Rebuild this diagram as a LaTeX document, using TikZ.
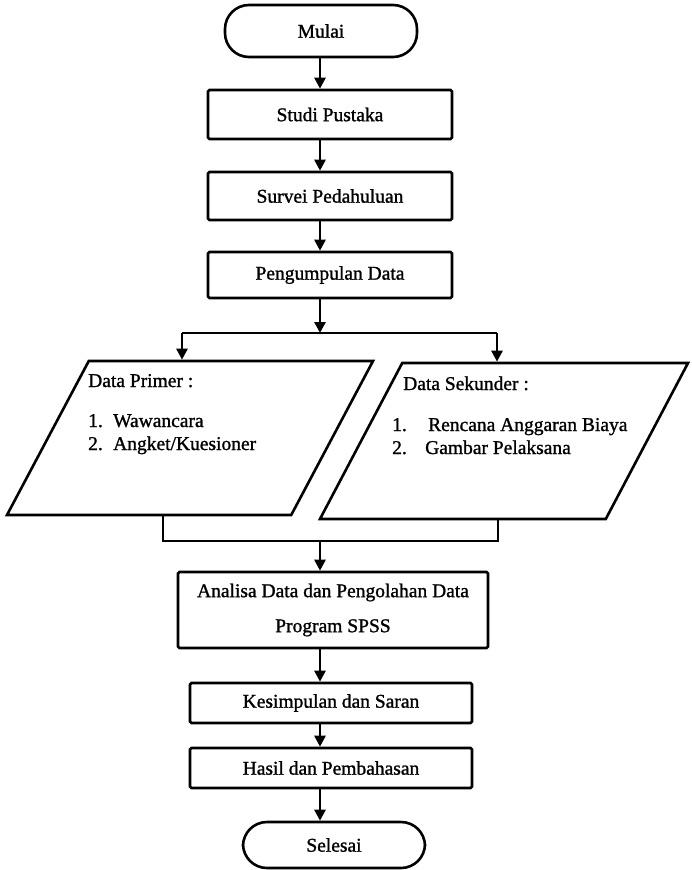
\documentclass[tikz,border=0pt]{standalone}
\usepackage{fontspec}
\setmainfont{Liberation Serif}[FakeBold=1.2]
\usetikzlibrary{arrows.meta,shapes.geometric}

\begin{document}
\begin{tikzpicture}[x=1pt,y=-1pt,font=\fontsize{19.5pt}{23.5pt}\selectfont]

      \tikzset{terminal/.style={draw, line width=2.6pt, rounded corners=24pt, minimum width=192pt, minimum height=52pt, inner sep=0pt},
               process/.style={draw, line width=2.6pt, rounded corners=1.5pt, minimum width=244pt, minimum height=48pt, inner sep=0pt},
               data/.style={draw, line width=2.6pt, trapezium, trapezium left angle=68, trapezium right angle=112, trapezium stretches=true, inner sep=0pt},
               item/.style={anchor=base west, inner sep=0pt},
               flow/.style={line width=2.6pt, -{Triangle[length=11pt,width=11pt]}},
               link/.style={line width=2.6pt}}
      \useasboundingbox (0,0) rectangle (691,870);
% Nodes
	%Mulai og selesai
      	\node[terminal] (mulai) at (321,31) {Mulai};
      	\node[terminal, minimum width=182pt, minimum height=46pt] (selesai) at (334,845) {Selesai};
	%Proses
      	\node[process, minimum height=49pt] (studi) at (330,114.5) {Studi Pustaka};
      	\node[process] (survei) at (330,196) {Survei Pedahuluan};
      	\node[process, minimum height=46pt] (kumpul) at (330,275) {Pengumpulan Data};
      	\node[process, minimum width=310pt, minimum height=76pt, align=center] (analisa) at (333,610) {Analisa Data dan Pengolahan Data\\[11.5pt]Program SPSS};
      	\node[process, minimum width=282pt, minimum height=40pt] (simpul) at (331,703) {Kesimpulan dan Saran};
      	\node[process, minimum width=282pt, minimum height=40pt] (hasil) at (331,768) {Hasil dan Pembahasan};
	%Data
      	\node[data, minimum width=366pt, minimum height=154pt] (primer) at (190,438) {\phantom{\rule{2pt}{2pt}}};
      	\node[data, minimum width=368pt, minimum height=156pt] (sekunder) at (504,441) {\phantom{\rule{2pt}{2pt}}};
      	\node[item] (primer-judul) at (88,387) {Data Primer :};
      	\node[item] (primer-1) at (88,427) {\makebox[25pt][l]{1.}Wawancara};
      	\node[item] (primer-2) at (88,450) {\makebox[25pt][l]{2.}Angket/Kuesioner};
      	\node[item] (sekunder-judul) at (403,390) {Data Sekunder :};
      	\node[item] (sekunder-1) at (392,431) {\makebox[36pt][l]{1.}Rencana Anggaran Biaya};
      	\node[item] (sekunder-2) at (392,454) {\makebox[33pt][l]{2.}Gambar Pelaksana};
	%Hjaelpepunkter
      	\coordinate (poros) at (320,0);
      	\coordinate (cabang) at (320,333);
      	\coordinate (kiri) at (182,333);
      	\coordinate (kanan) at (497,333);
      	\coordinate (gabung) at (320,541);
      	\coordinate (bawah-kiri) at (163,541);
      	\coordinate (bawah-kanan) at (498,541);
% Edges
	%Hovedlinje
		\draw[flow] (mulai.south -| poros) -- (studi.north -| poros);
		\draw[flow] (studi.south -| poros) -- (survei.north -| poros);
		\draw[flow] (survei.south -| poros) -- (kumpul.north -| poros);
		\draw[flow] (kumpul.south -| poros) -- (cabang);
	%Forgrening
		\draw[link] (kiri) -- (kanan);
		\draw[flow] (kiri) -- (kiri |- primer.north);
		\draw[flow] (kanan) -- (kanan |- sekunder.north);
		\draw[link] (bawah-kiri |- primer.south) -- (bawah-kiri) -- (bawah-kanan) -- (bawah-kanan |- sekunder.south);
	%Resten
		\draw[flow] (gabung) -- (analisa.north -| poros);
		\draw[flow] (analisa.south -| poros) -- (simpul.north -| poros);
		\draw[flow] (simpul.south -| poros) -- (hasil.north -| poros);
		\draw[flow] (hasil.south -| poros) -- (selesai.north -| poros);

	\end{tikzpicture}
\end{document}
